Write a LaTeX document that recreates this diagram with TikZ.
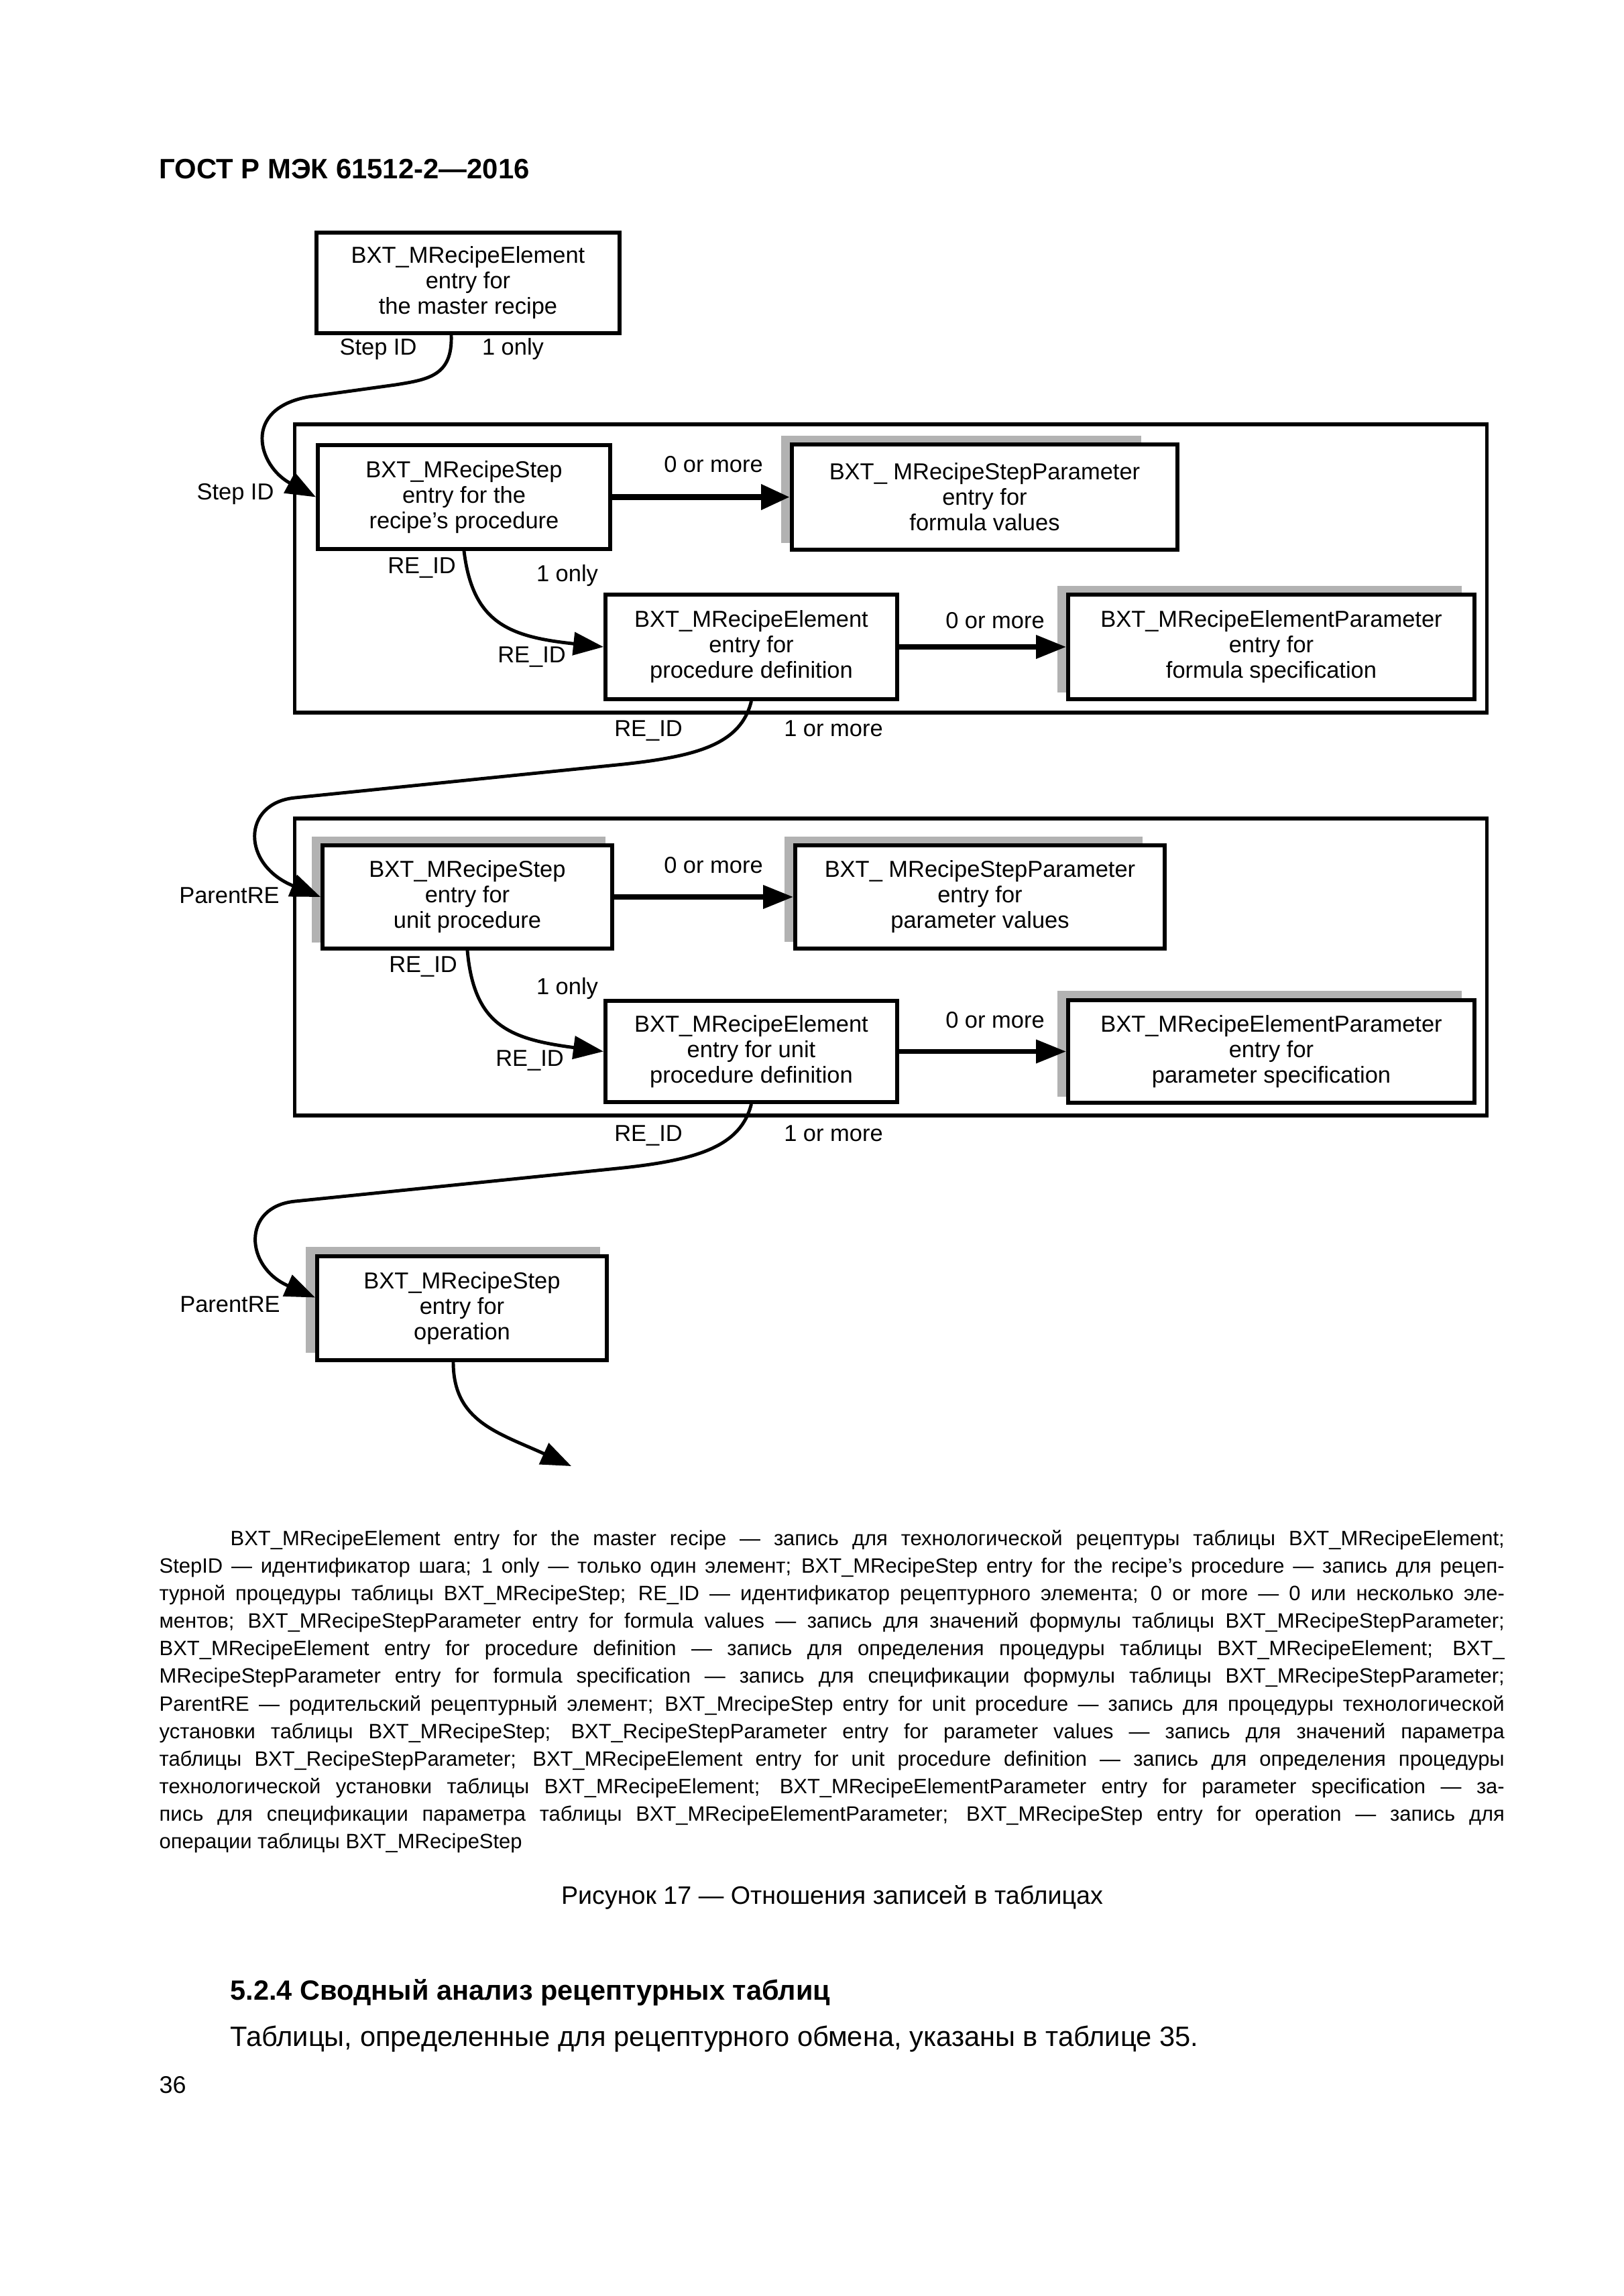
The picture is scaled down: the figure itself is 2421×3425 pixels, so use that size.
\documentclass[tikz,border=0pt]{standalone}
\usepackage{fontspec}
\usepackage{graphicx}
\setmainfont{Liberation Sans}
\usetikzlibrary{arrows.meta,calc,backgrounds}
\newsavebox\jbox
\newcommand\jline[2]{\sbox\jbox{#2}\ifdim\wd\jbox>#1\relax\resizebox{#1}{\height}{\usebox\jbox}\else\hbox to #1{#2}\fi}
\newcommand\boxfont{\fontsize{9.8pt}{10.8pt}\selectfont}
\newcommand\hdrfont{\fontsize{11.9pt}{13pt}\selectfont\bfseries}
\newcommand\capfont{\fontsize{8.8pt}{11pt}\selectfont}
\newcommand\figfont{\fontsize{10.7pt}{12pt}\selectfont}
\newcommand\headfont{\fontsize{11.8pt}{13pt}\selectfont\bfseries}
\newcommand\bodyfont{\fontsize{11.85pt}{13pt}\selectfont}
\newcommand\pgfont{\fontsize{10.2pt}{12pt}\selectfont}
\tikzset{
  box/.style={draw, line width=1.6pt, fill=white, align=center, inner sep=0pt, font=\boxfont},
  grp/.style={draw, line width=1.6pt, inner sep=0pt},
  shd/.style={fill=black!30},
  lbl/.style={anchor=base, inner sep=0pt, font=\boxfont},
  txt/.style={anchor=base west, inner sep=0pt},
  rel/.style={line width=1.4pt, -{Triangle[length=0.45cm,width=0.34cm]}},
  relmid/.style={line width=2pt, -{Triangle[length=0.45cm,width=0.34cm]}},
  relthick/.style={line width=2.8pt, -{Triangle[length=0.43cm,width=0.36cm]}},
}
\begin{document}
\begin{tikzpicture}[x=0.01cm,y=-0.01cm]
\useasboundingbox (0,0) rectangle (2421,3425);

% header
\node[txt, font=\hdrfont] (hdr) at (237,267) {ГОСТ Р МЭК 61512-2—2016};

% group frames
\node[grp, minimum width=17.77cm, minimum height=4.30cm] (G1) at (1328.5,848) {};
\node[grp, minimum width=17.77cm, minimum height=4.43cm] (G2) at (1328.5,1442.5) {};

% boxes
\node[box, minimum width=4.52cm, minimum height=1.50cm] (A) at (698,422) {BXT\_MRecipeElement\\entry for\\the master recipe};
\node[box, minimum width=4.36cm, minimum height=1.55cm] (B) at (692,741.5) {BXT\_MRecipeStep\\entry for the\\recipe’s procedure};
\node[box, minimum width=5.75cm, minimum height=1.57cm] (C) at (1468.5,741.5) {BXT\_ MRecipeStepParameter\\entry for\\formula values};
\node[box, minimum width=4.35cm, minimum height=1.56cm] (D) at (1120.5,965) {BXT\_MRecipeElement\\entry for\\procedure definition};
\node[box, minimum width=6.06cm, minimum height=1.56cm] (E) at (1896,965) {BXT\_MRecipeElementParameter\\entry for\\formula specification};
\node[box, minimum width=4.32cm, minimum height=1.54cm] (F) at (697,1338) {BXT\_MRecipeStep\\entry for\\unit procedure};
\node[box, minimum width=5.51cm, minimum height=1.54cm] (G) at (1461.5,1338) {BXT\_ MRecipeStepParameter\\entry for\\parameter values};
\node[box, minimum width=4.35cm, minimum height=1.51cm] (H) at (1120.5,1568.5) {BXT\_MRecipeElement\\entry for unit\\procedure definition};
\node[box, minimum width=6.06cm, minimum height=1.53cm] (I) at (1896,1568.5) {BXT\_MRecipeElementParameter\\entry for\\parameter specification};
\node[box, minimum width=4.32cm, minimum height=1.55cm] (K) at (689,1951.5) {BXT\_MRecipeStep\\entry for\\operation};
\coordinate (out) at (852,2187);

% background and shadows
\begin{scope}[on background layer]
\fill[white] (0,0) rectangle (2421,3425);
\fill[shd] ($(C.north west)+(-13,-10)$) rectangle ($(C.south east)+(-57,-13)$);
\fill[shd] ($(E.north west)+(-13,-10)$) rectangle ($(E.south east)+(-22,-13)$);
\fill[shd] ($(F.north west)+(-13,-10)$) rectangle ($(F.south east)+(-13,-12)$);
\fill[shd] ($(G.north west)+(-13,-10)$) rectangle ($(G.south east)+(-36,-13)$);
\fill[shd] ($(I.north west)+(-13,-11)$) rectangle ($(I.south east)+(-22,-12)$);
\fill[shd] ($(K.north west)+(-14,-11)$) rectangle ($(K.south east)+(-13,-14)$);
\end{scope}

% connectors
\draw[rel] ([xshift=-0.25cm]A.south) .. controls (675,560) and (640,566) .. (590,574) -- (460,592) .. controls (360,610) and (385,695) .. (B.west);
\draw[relthick] (B.east) -- (C.west);
\draw[rel] (B.south) .. controls (705,930) and (760,950) .. (D.west);
\draw[relmid] (D.east) -- (E.west);
\draw[rel] (D.south) .. controls (1105,1110) and (1040,1128) .. (930,1140) -- (440,1190) .. controls (360,1198) and (360,1290) .. (F.west);
\draw[relmid] (F.east) -- (G.west);
\draw[rel] (F.south) .. controls (707,1530) and (760,1550) .. (H.west);
\draw[relmid] (H.east) -- (I.west);
\draw[rel] (H.south) .. controls (1105,1710) and (1040,1730) .. (930,1742) -- (440,1792) .. controls (360,1800) and (365,1890) .. ([yshift=0.16cm]K.west);
\draw[rel] ([xshift=-0.13cm]K.south) .. controls (676,2120) and (742,2137) .. (out);

% labels
\node[lbl] (l1) at (564,530) {Step ID};
\node[lbl] (l2) at (765,530) {1 only};
\node[lbl] (l3) at (351,745) {Step ID};
\node[lbl] (l4) at (1064,705) {0 or more};
\node[lbl] (l5) at (629,855) {RE\_ID};
\node[lbl] (l6) at (846,867) {1 only};
\node[lbl] (l7) at (793,988) {RE\_ID};
\node[lbl] (l8) at (1484,937) {0 or more};
\node[lbl] (l9) at (967,1098) {RE\_ID};
\node[lbl] (l10) at (1243,1098) {1 or more};
\node[lbl] (l11) at (342,1347) {ParentRE};
\node[lbl] (l12) at (1064,1302) {0 or more};
\node[lbl] (l13) at (631,1450) {RE\_ID};
\node[lbl] (l14) at (846,1483) {1 only};
\node[lbl] (l15) at (790,1590) {RE\_ID};
\node[lbl] (l16) at (1484,1533) {0 or more};
\node[lbl] (l17) at (967,1702) {RE\_ID};
\node[lbl] (l18) at (1243,1702) {1 or more};
\node[lbl] (l19) at (343,1957) {ParentRE};

% legend paragraph
\node[txt, font=\capfont] (c1) at (343,2305) {\jline{18.99cm}{BXT\_MRecipeElement entry for the master recipe — запись для технологической рецептуры таблицы BXT\_MRecipeElement;}};
\node[txt, font=\capfont] (c2) at (237,2346) {\jline{20.05cm}{StepID — идентификатор шага; 1 only — только один элемент; BXT\_MRecipeStep entry for the recipe’s procedure — запись для рецеп-}};
\node[txt, font=\capfont] (c3) at (237,2387) {\jline{20.05cm}{турной процедуры таблицы BXT\_MRecipeStep; RE\_ID — идентификатор рецептурного элемента; 0 or more — 0 или несколько эле-}};
\node[txt, font=\capfont] (c4) at (237,2428) {\jline{20.05cm}{ментов; BXT\_MRecipeStepParameter entry for formula values — запись для значений формулы таблицы BXT\_MRecipeStepParameter;}};
\node[txt, font=\capfont] (c5) at (237,2469) {\jline{20.05cm}{BXT\_MRecipeElement entry for procedure definition — запись для определения процедуры таблицы BXT\_MRecipeElement; BXT\_}};
\node[txt, font=\capfont] (c6) at (237,2510) {\jline{20.05cm}{MRecipeStepParameter entry for formula specification — запись для спецификации формулы таблицы BXT\_MRecipeStepParameter;}};
\node[txt, font=\capfont] (c7) at (237,2552) {\jline{20.05cm}{ParentRE — родительский рецептурный элемент; BXT\_MrecipeStep entry for unit procedure — запись для процедуры технологической}};
\node[txt, font=\capfont] (c8) at (237,2593) {\jline{20.05cm}{установки таблицы BXT\_MRecipeStep; BXT\_RecipeStepParameter entry for parameter values — запись для значений параметра}};
\node[txt, font=\capfont] (c9) at (237,2634) {\jline{20.05cm}{таблицы BXT\_RecipeStepParameter; BXT\_MRecipeElement entry for unit procedure definition — запись для определения процедуры}};
\node[txt, font=\capfont] (c10) at (237,2675) {\jline{20.05cm}{технологической установки таблицы BXT\_MRecipeElement; BXT\_MRecipeElementParameter entry for parameter specification — за-}};
\node[txt, font=\capfont] (c11) at (237,2716) {\jline{20.05cm}{пись для спецификации параметра таблицы BXT\_MRecipeElementParameter; BXT\_MRecipeStep entry for operation — запись для}};
\node[txt, font=\capfont] (c12) at (237,2757) {операции таблицы BXT\_MRecipeStep};

% figure caption and following text
\node[anchor=base, inner sep=0pt, font=\figfont] (fig) at (1241,2840) {Рисунок 17 — Отношения записей в таблицах};
\node[txt, font=\headfont] (sec) at (343,2983) {5.2.4 Сводный анализ рецептурных таблиц};
\node[txt, font=\bodyfont] (body) at (343,3052) {Таблицы, определенные для рецептурного обмена, указаны в таблице 35.};
\node[txt, font=\pgfont] (pg) at (237,3122) {36};
\end{tikzpicture}
\end{document}
